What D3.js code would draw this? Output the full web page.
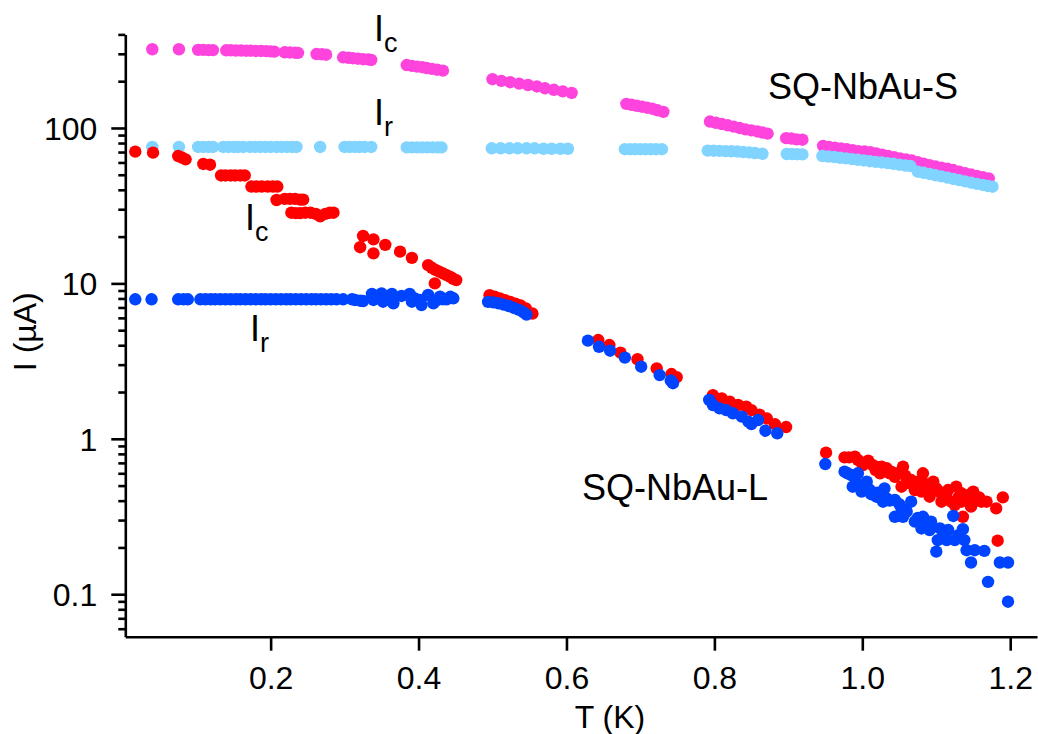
<!DOCTYPE html>
<html>
<head>
<meta charset="utf-8">
<script src="https://cdn.jsdelivr.net/npm/d3@7"></script>
<style>
  html, body { margin: 0; padding: 0; background: #fff; }
  svg { display: block; font-family: "Liberation Sans", Arial, sans-serif; }
</style>
</head>
<body>
<svg id="chart" width="1038" height="734"></svg>
<script>
// Critical (Ic) and retrapping (Ir) currents vs temperature, [T (K), I (µA)]
// Device SQ-NbAu-S
const icS = [
  [0.040,321],[0.076,321],[0.102,318],[0.109,318],[0.116,317],[0.122,317],
  [0.140,316],[0.146,316],[0.153,315],[0.160,315],[0.167,314],[0.173,314],[0.180,313],
  [0.187,313],[0.194,312],[0.200,311],[0.205,310],
  [0.219,307],[0.226,306],[0.233,305],[0.237,304],
  [0.262,299],[0.269,298],[0.275,296],
  [0.298,285],[0.305,283],[0.311,281],[0.318,279],[0.325,277],[0.332,276],[0.336,274],
  [0.384,254],[0.391,251],[0.398,248],[0.405,246],[0.411,243],[0.418,240],[0.425,237],[0.433,234],
  [0.500,206],[0.512,201],[0.524,197],[0.536,193],[0.548,189],[0.560,185],[0.571,180],
  [0.583,176],[0.595,172],[0.607,168],
  [0.681,143],[0.688,141],[0.695,139],[0.702,137],[0.709,135],[0.716,133],[0.723,130],[0.731,127],
  [0.794,110],[0.802,108],[0.810,106],[0.818,104],[0.826,102],[0.834,100],[0.842,98],
  [0.850,96.5],[0.858,95],[0.865,93.5],[0.872,92],
  [0.897,86],[0.904,85.5],[0.911,84.5],[0.919,84],
  [0.947,76.6],[0.955,75.5],[0.963,74.6],[0.971,73.8],[0.979,72.9],[0.987,72.0],[0.995,71.0],
  [1.003,70.5],[1.011,69.8],[1.019,68.6],[1.027,67.3],[1.035,66.0],[1.043,64.9],[1.051,63.6],
  [1.059,62.7],[1.067,61.7],[1.075,60.3],[1.083,59.0],[1.091,57.7],[1.099,56.5],[1.107,55.5],
  [1.115,54.7],[1.123,53.6],[1.131,52.4],[1.139,51.2],[1.147,50.2],[1.155,49.2],[1.163,48.3],[1.171,47.4]
];
const irS = [
  [0.040,75.5],[0.076,75.5],[0.102,75.5],[0.109,75.5],[0.116,75.5],[0.122,75.5],
  [0.136,75.5],[0.143,75.5],[0.150,75.5],[0.156,75.5],[0.163,75.5],
  [0.172,75.5],[0.179,75.5],[0.186,75.5],[0.193,75.5],[0.200,75.5],[0.208,75.5],
  [0.215,75.5],[0.222,75.5],[0.229,75.5],[0.235,75.5],
  [0.267,75.5],
  [0.300,75.5],[0.307,75.5],[0.314,75.5],[0.320,75.5],[0.327,75.5],[0.336,75.5],
  [0.384,75],[0.391,75],[0.398,75],[0.405,75],[0.412,75],[0.419,75],[0.426,75],[0.431,75],
  [0.499,74],[0.511,74],[0.523,74],[0.534,74],[0.546,74],[0.557,74],[0.569,73.5],
  [0.580,73.5],[0.592,73.5],[0.602,73.5],
  [0.679,73],[0.686,73],[0.693,73],[0.700,73],[0.707,73],[0.714,73],[0.721,73],[0.729,73],
  [0.791,71.5],[0.799,71.4],[0.807,71.2],[0.815,71.0],[0.823,70.8],[0.831,70.5],
  [0.839,70.0],[0.847,69.6],[0.855,69.0],[0.865,68.2],
  [0.898,68.0],[0.905,68.0],[0.912,67.8],[0.919,67.6],
  [0.946,66.0],[0.954,65.5],[0.962,65.0],[0.970,64.3],[0.978,63.7],[0.986,63.0],[0.994,62.4],
  [1.002,61.8],[1.010,61.1],[1.018,60.5],[1.026,60.0],[1.034,59.4],[1.042,58.8],[1.050,58.0],
  [1.058,57.3],[1.065,56.9],
  [1.075,52.3],[1.083,51.5],[1.091,50.6],[1.099,49.6],[1.107,48.8],[1.115,47.9],[1.123,47.0],
  [1.131,46.2],[1.139,45.3],[1.147,44.5],[1.155,43.7],[1.163,43.0],[1.170,42.3],[1.176,41.9]
];

// Device SQ-NbAu-L
const icL = [
  [0.017,70.4],[0.041,69.4],
  [0.075,66.0],[0.080,64.5],[0.085,62.8],
  [0.109,58.7],[0.118,58.0],
  [0.133,49.5],[0.139,49.5],[0.146,49.5],[0.152,49.5],[0.159,49.5],[0.165,49.5],
  [0.174,42],[0.181,42],[0.188,42],[0.196,42],[0.203,42],[0.209,42],
  [0.208,34.4],[0.219,35.0],[0.226,35.0],[0.233,35.0],[0.240,34.6],[0.244,34.6],
  [0.228,28.5],[0.234,28.3],[0.240,28.3],[0.247,28.5],[0.254,28.5],[0.261,28.0],
  [0.267,27.0],[0.274,28.0],[0.280,28.5],[0.285,28.5],
  [0.321,17.1],[0.325,20.2],[0.339,19.2],[0.339,15.6],[0.355,17.7],[0.375,16.0],[0.391,14.6],
  [0.413,13.1],[0.418,12.6],[0.423,12.2],[0.428,11.9],[0.433,11.6],[0.438,11.3],
  [0.443,11.0],[0.447,10.7],[0.451,10.5],[0.422,10.0],
  [0.496,8.4],[0.503,8.2],[0.510,8.0],[0.517,7.8],[0.524,7.6],[0.531,7.4],[0.538,7.2],
  [0.545,6.9],[0.554,6.4],
  [0.643,4.32],[0.658,4.01],[0.673,3.58],[0.696,3.25],[0.722,2.84],[0.742,2.61],[0.749,2.49],
  [0.798,1.91],[0.810,1.82],[0.821,1.73],[0.832,1.65],[0.843,1.61],[0.850,1.53],
  [0.861,1.43],[0.871,1.35],[0.882,1.24],[0.897,1.19],
  [0.951,0.814],[0.976,0.760],[0.982,0.760],[0.990,0.767],[0.994,0.731],[0.999,0.700],
  [1.001,0.678],[1.008,0.723],[1.014,0.678],[1.018,0.630],[1.020,0.660],[1.024,0.600],
  [1.026,0.661],[1.033,0.646],[1.037,0.600],[1.039,0.614],[1.044,0.570],[1.048,0.600],
  [1.053,0.492],[1.055,0.661],[1.058,0.580],[1.060,0.520],[1.063,0.520],[1.066,0.543],
  [1.070,0.500],[1.071,0.468],[1.075,0.530],[1.080,0.457],[1.082,0.600],[1.084,0.517],
  [1.088,0.500],[1.091,0.424],[1.093,0.468],[1.096,0.530],[1.100,0.480],[1.103,0.460],
  [1.107,0.446],[1.107,0.394],[1.110,0.420],[1.113,0.430],[1.116,0.468],[1.120,0.394],
  [1.125,0.375],[1.127,0.492],[1.130,0.420],[1.134,0.446],[1.134,0.394],[1.136,0.315],
  [1.140,0.430],[1.143,0.414],[1.146,0.440],[1.147,0.366],[1.150,0.457],[1.155,0.400],
  [1.158,0.420],[1.161,0.394],[1.168,0.394],[1.181,0.357],[1.190,0.420],[1.183,0.221]
];
const irL = [
  [0.017,7.9],[0.039,7.9],[0.075,7.9],[0.082,7.9],[0.088,7.9],
  [0.105,7.9],[0.112,7.9],[0.119,7.9],[0.125,7.9],[0.132,7.9],[0.139,7.9],[0.146,7.9],
  [0.153,7.9],[0.159,7.9],[0.166,7.9],[0.173,7.9],[0.180,7.9],[0.187,7.9],[0.193,7.9],
  [0.200,7.9],[0.207,7.9],[0.214,7.9],[0.221,7.9],[0.227,7.9],[0.234,7.9],[0.241,7.9],
  [0.248,7.9],[0.255,7.9],[0.261,7.9],[0.268,7.9],[0.275,7.9],[0.282,7.9],[0.289,7.9],
  [0.298,7.9],[0.310,7.9],[0.314,7.82],[0.321,7.74],[0.325,7.7],
  [0.337,8.55],[0.339,7.82],[0.350,8.62],[0.352,7.62],[0.358,7.9],[0.364,8.55],[0.366,7.45],
  [0.377,8.30],[0.388,8.55],[0.391,7.62],[0.395,8.0],[0.402,7.82],[0.404,7.26],[0.413,8.42],
  [0.420,7.45],[0.425,7.8],[0.429,8.21],[0.433,7.9],[0.438,7.9],[0.443,8.2],[0.447,8.02],
  [0.494,7.6],[0.501,7.55],[0.508,7.45],[0.515,7.3],[0.522,7.15],[0.529,6.95],[0.536,6.75],
  [0.542,6.5],[0.546,6.3],
  [0.629,4.28],[0.644,3.91],[0.659,3.69],[0.679,3.33],[0.701,2.91],[0.726,2.57],[0.741,2.37],[0.744,2.28],
  [0.793,1.78],[0.798,1.65],[0.807,1.57],[0.816,1.53],[0.825,1.46],[0.837,1.39],[0.846,1.29],
  [0.850,1.245],[0.859,1.32],[0.869,1.127],[0.885,1.085],
  [0.950,0.688],[0.976,0.614],[0.980,0.600],[0.985,0.585],[0.994,0.600],[0.987,0.492],
  [0.992,0.520],[0.999,0.457],[1.006,0.530],[1.003,0.492],[1.010,0.470],[1.012,0.440],
  [1.019,0.424],[1.020,0.450],[1.025,0.420],[1.030,0.480],[1.033,0.414],[1.028,0.394],
  [1.037,0.400],[1.044,0.404],[1.050,0.380],[1.053,0.357],[1.044,0.315],[1.055,0.315],
  [1.066,0.394],[1.060,0.340],[1.071,0.293],[1.075,0.310],[1.082,0.315],[1.080,0.265],
  [1.087,0.280],[1.093,0.293],[1.091,0.259],[1.105,0.265],[1.110,0.250],[1.116,0.259],
  [1.123,0.319],[1.130,0.240],[1.136,0.262],[1.102,0.223],[1.114,0.223],[1.125,0.223],
  [1.138,0.223],[1.100,0.188],[1.141,0.192],[1.152,0.192],[1.165,0.190],[1.147,0.160],
  [1.186,0.160],[1.197,0.160],[1.170,0.120],[1.197,0.0895]
];

const series = [
  { data: icS, color: "#ff44dd" },
  { data: irS, color: "#80d4ff" },
  { data: icL, color: "#ff0000" },
  { data: irL, color: "#0044ff" }
];

const xTicks = [0.2, 0.4, 0.6, 0.8, 1.0, 1.2];
const yMajor = [0.1, 1, 10, 100];
const yMinor = [0.06, 0.07, 0.08, 0.09, 0.2, 0.3, 0.4, 0.5, 0.6, 0.7, 0.8, 0.9,
                2, 3, 4, 5, 6, 7, 8, 9, 20, 30, 40, 50, 60, 70, 80, 90, 200, 300, 400];

const svg = d3.select("#chart");

const x = d3.scaleLinear().domain([0.0035, 1.2362]).range([125.3, 1037]);
const y = d3.scaleLog().domain([0.0533, 400]).range([636.7, 34.4]);

const axisW = 2.6;

// markers
series.forEach(s => {
  svg.append("g")
    .selectAll("circle")
    .data(s.data)
    .join("circle")
    .attr("cx", d => x(d[0]))
    .attr("cy", d => y(d[1]))
    .attr("r", 6.2)
    .attr("fill", s.color);
});

// y axis: minor ticks then majors with labels
const yMinorG = svg.append("g")
  .attr("transform", `translate(${x.range()[0]},0)`)
  .call(d3.axisLeft(y).tickValues(yMinor).tickSize(7).tickFormat(""));
yMinorG.select(".domain").remove();

const yAxisG = svg.append("g")
  .attr("transform", `translate(${x.range()[0]},0)`)
  .call(d3.axisLeft(y).tickValues(yMajor).tickSize(14).tickSizeOuter(0)
    .tickPadding(14).tickFormat(d3.format("~g")));

const xAxisG = svg.append("g")
  .attr("transform", `translate(0,${y.range()[0]})`)
  .call(d3.axisBottom(x).tickValues(xTicks).tickSize(14).tickSizeOuter(0)
    .tickPadding(16).tickFormat(d3.format(".1f")));

[yMinorG, yAxisG, xAxisG].forEach(g => {
  g.selectAll("path, line").attr("stroke", "#000").attr("stroke-width", axisW);
  g.selectAll("text").attr("font-size", 32).attr("fill", "#000")
    .attr("font-family", "'Liberation Sans', Arial, sans-serif");
});
yAxisG.selectAll("text").attr("dy", "0.36em");

// axis titles
svg.append("text")
  .attr("x", 610).attr("y", 728)
  .attr("text-anchor", "middle")
  .attr("font-size", 32)
  .text("T (K)");

svg.append("text")
  .attr("transform", "translate(35.5,331.7) rotate(-90)")
  .attr("text-anchor", "middle")
  .attr("font-size", 32)
  .text("I (µA)");

// series annotations
function subLabel(x0, yBase, main, sub) {
  const t = svg.append("text").attr("x", x0).attr("y", yBase).attr("font-size", 36);
  t.append("tspan").text(main);
  t.append("tspan").attr("font-size", 27).attr("dy", 11).text(sub);
}
subLabel(374, 41, "I", "c");
subLabel(374, 125, "I", "r");
subLabel(245, 230, "I", "c");
subLabel(250, 340.7, "I", "r");

svg.append("text").attr("x", 768).attr("y", 99).attr("font-size", 36).text("SQ-NbAu-S");
svg.append("text").attr("x", 582).attr("y", 500).attr("font-size", 36).text("SQ-NbAu-L");
</script>
</body>
</html>
